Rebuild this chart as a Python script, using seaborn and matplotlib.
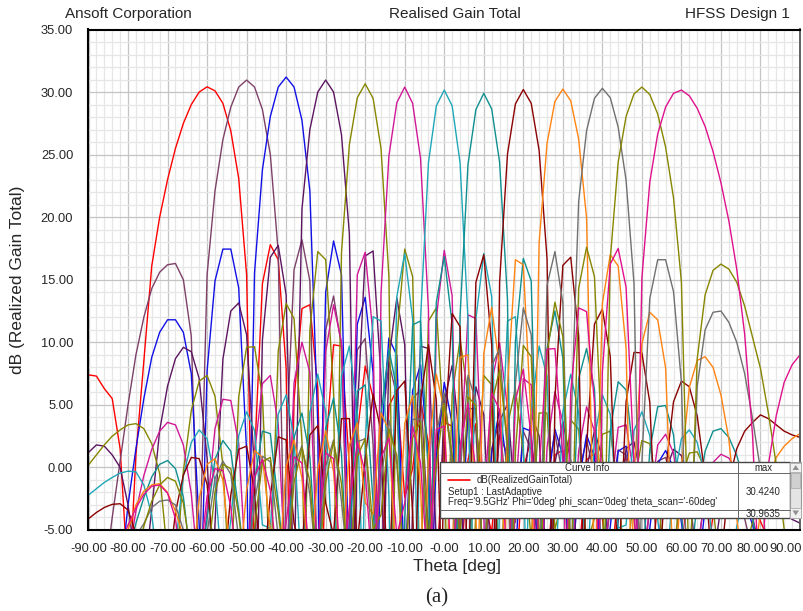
import matplotlib
matplotlib.use("Agg")
import matplotlib.pyplot as plt
import matplotlib.transforms as mtransforms
import seaborn as sns
import pandas as pd
from matplotlib.ticker import MultipleLocator, FormatStrFormatter
from matplotlib.patches import Rectangle, Polygon
from matplotlib.lines import Line2D

# ---------------- data ----------------
THETA = [-90, -88, -86, -84, -82, -80, -78, -76, -74, -72,
         -70, -68, -66, -64, -62, -60, -58, -56, -54, -52,
         -50, -48, -46, -44, -42, -40, -38, -36, -34, -32,
         -30, -28, -26, -24, -22, -20, -18, -16, -14, -12,
         -10, -8, -6, -4, -2, 0, 2, 4, 6, 8,
         10, 12, 14, 16, 18, 20, 22, 24, 26, 28,
         30, 32, 34, 36, 38, 40, 42, 44, 46, 48,
         50, 52, 54, 56, 58, 60, 62, 64, 66, 68,
         70, 72, 74, 76, 78, 80, 82, 84, 86, 88,
         90]

BEAMS = ["-60deg", "-50deg", "-40deg", "-30deg", "-20deg", "-10deg", "0deg",
         "10deg", "20deg", "30deg", "40deg", "50deg", "60deg"]
COLORS = ["#ff0000", "#7d4068", "#1010e6", "#5c1560", "#868600", "#d01896",
          "#1fa7b8", "#0f8f8f", "#8b0000", "#ff8412", "#707070", "#868600", "#e0108c"]

GAIN_M60 = [7.4, 7.3, 6.3, 5.5, 1.5, -9, 1.0, 8.5, 16.1, 20.0,
            23.0, 25.5, 27.5, 29.0, 30.0, 30.42, 30.1, 29.1, 26.9, 23.1,
            15.4, 0.7, 14.7, 17.8, 16.6, 7.9, 5.4, 12.7, 13.0, 6.3,
            1.2, 9.8, 9.7, 0.0, 2.7, 8.1, 5.6, -9, 4.9, 6.2,
            -2.4, -0.1, 5.4, 1.9, -9, 3.6, 3.3, -9, 0.6, 3.5,
            -2.6, -5.2, 2.6, 1.0, -9, -0.1, 2.3, -2.9, -9, 1.0,
            1.4, -5.8, -7.6, 0.6, 1.1, -4.1, -9, -1.6, 0.9, -0.5,
            -7.2, -9, -2.9, 0.0, 0.2, -2.0, -7.6, -9, -8.7, -3.8,
            -1.8, -1.1, -1.2, -1.9, -3.0, -4.3, -5.8, -7.3, -8.6, -9,
            -9]
GAIN_M50 = [-9, -9, -9, -4.0, 0.5, 5.0, 9.0, 12.0, 14.3, 15.6,
            16.2, 16.3, 15.0, 10.5, -9, 15.4, 22.1, 26.2, 28.8, 30.4,
            30.96, 30.4, 28.6, 25.0, 17.2, 1.5, 15.8, 18.2, 14.9, -9,
            11.0, 13.7, 9.7, -4.5, 9.4, 10.3, 1.8, 2.5, 8.4, 5.7,
            -9, 5.5, 6.2, -5.0, 1.6, 5.7, 0.8, -5.2, 4.2, 3.0,
            -9, 1.5, 3.7, -3.2, -4.4, 2.9, 1.4, -9, -0.7, 2.7,
            -0.7, -9, -0.5, 2.2, -0.6, -9, -3.0, 1.4, 1.0, -4.2,
            -9, -3.2, 0.5, 0.8, -1.4, -7.2, -9, -6.6, -2.3, -0.5,
            -0.2, -0.8, -2.1, -4.1, -6.7, -9, -9, -9, -9, -9,
            -9]
GAIN_M40 = [-9, -9, -9, -9, -9, -3.0, 1.5, 5.5, 8.8, 10.8,
            11.8, 11.8, 10.8, 7.5, -4.6, 7.7, 14.9, 17.45, 17.45, 14.35,
            1.25, 15.55, 23.8, 28.05, 30.4, 31.2, 30.4, 27.75, 22.1, 3.5,
            14.0, 18.1, 15.4, -9, 11.45, 13.6, 7.55, 1.95, 10.35, 8.95,
            -9, 6.15, 8.2, 0.35, 0.85, 6.8, 3.5, -9, 4.7, 4.7,
            -9, 1.15, 4.65, -0.25, -7.05, 3.15, 2.9, -8.35, -1.85, 3.05,
            0.95, -9, -1.35, 2.6, 0.85, -9, -4.75, 1.3, 1.7, -1.95,
            -9, -4.85, 0.3, 1.35, -0.05, -4.4, -9, -9, -3.2, -0.8,
            -0.05, -0.25, -1.15, -2.7, -4.6, -7.05, -9, -9, -9, -9,
            -9]
GAIN_M30 = [1.2, 1.8, 1.7, 1.0, 0.0, -3.0, -7.7, -9, -3.35, 2.95,
            6.5, 8.7, 9.6, 9.25, 7.1, 0.75, -4.5, 8.65, 12.5, 13.15,
            10.6, -0.25, 10.2, 16.8, 17.75, 13.8, -9, 20.65, 27.0, 30.0,
            30.96, 30.0, 26.6, 18.65, 4.35, 16.9, 17.3, 7.15, 8.7, 13.55,
            9.8, -2.95, 9.7, 9.5, -6.15, 5.25, 8.15, 1.7, -0.9, 6.45,
            4.2, -9, 3.7, 5.05, -3.05, -2.1, 4.25, 2.5, -9, 0.35,
            3.65, 0.55, -9, -0.15, 2.95, 0.75, -9, -4.3, 1.5, 2.05,
            -1.1, -9, -6.7, -0.3, 1.45, 0.95, -1.8, -8.2, -9, -7.5,
            -3.15, -1.15, -0.4, -0.35, -0.7, -1.35, -2.15, -2.9, -3.7, -4.15,
            -4.45]
GAIN_M20 = [0.2, 1.0, 1.8, 2.5, 3.0, 3.4, 3.5, 3.1, 1.9, -0.5,
            -7.05, -9, -0.3, 4.55, 6.9, 7.35, 5.7, 0.15, -9, 5.65,
            9.6, 9.65, 5.7, -9, 9.3, 13.1, 11.9, 2.05, 10.95, 17.25,
            16.6, 5.95, 17.15, 25.8, 29.55, 30.66, 29.5, 25.5, 15.25, 10.25,
            17.45, 15.25, -9, 11.7, 12.75, 2.45, 5.8, 10.25, 5.8, -3.15,
            7.35, 6.6, -9, 3.35, 6.3, 1.15, -5.75, 4.35, 4.35, -4.95,
            -2.4, 3.8, 3.05, -6.25, -4.05, 2.65, 2.9, -1.85, -9, -1.4,
            2.15, 1.9, -1.75, -9, -7.3, -0.9, 1.15, 1.25, -0.15, -3.15,
            -8.85, -9, -9, -6.9, -4.35, -3.0, -2.2, -1.8, -1.65, -1.65,
            -1.75]
GAIN_M10 = [-9, -9, -9, -9, -9, -7.2, -3.5, -0.65, 1.45, 2.9,
            3.6, 3.4, 1.8, -2.1, -9, -3.4, 3.1, 5.45, 5.35, 1.9,
            -9, 1.1, 6.7, 7.35, 3.45, -9, 6.75, 10.0, 7.6, -9,
            9.25, 13.0, 10.0, -9, 15.4, 17.2, 10.55, 13.9, 24.9, 29.15,
            30.4, 29.1, 24.7, 12.6, 11.95, 17.35, 13.7, -0.3, 12.2, 11.9,
            -3.5, 6.75, 9.95, 4.7, -2.3, 7.1, 6.6, -5.8, 1.6, 6.05,
            3.65, -9, 1.3, 4.85, 2.9, -9, -2.35, 3.2, 3.4, -0.65,
            -9, -2.9, 1.8, 2.65, 1.15, -3.6, -9, -7.3, -1.85, 0.4,
            1.05, 0.75, -0.25, -1.9, -3.95, -6.65, -9, -9, -9, -9,
            -9]
GAIN_0 = [-2.2, -1.7, -1.2, -0.8, -0.45, -0.3, -0.35, -1.4, -3.8, -9,
          -9, -6.25, -0.7, 2.0, 3.0, 2.3, -1.15, -9, -4.2, 2.55,
          4.45, 2.95, -4.6, -4.85, 4.25, 5.8, 2.35, -9, 4.4, 7.45,
          4.45, -9, 7.3, 9.7, 4.5, 1.95, 12.05, 11.7, -2.35, 13.65,
          17.1, 11.85, 11.85, 24.35, 28.9, 30.16, 28.9, 24.35, 11.85, 11.85,
          17.1, 13.65, -2.35, 11.7, 12.05, 1.95, 4.5, 9.7, 7.3, -9,
          4.45, 7.45, 4.4, -9, 2.35, 5.8, 4.25, -4.85, -4.6, 2.95,
          4.45, 2.55, -4.2, -9, -1.15, 2.3, 3.0, 2.0, -0.7, -6.25,
          -9, -9, -4.7, -2.1, -0.75, -0.15, 0.1, 0.15, 0.1, -0.05,
          -0.15]
GAIN_P10 = [-9, -9, -9, -9, -9, -7.15, -4.45, -2.4, -0.75, 0.25,
            0.55, -0.1, -2.35, -7.8, -9, -4.1, 0.65, 2.15, 1.3, -3.4,
            -9, -1.15, 2.9, 2.7, -2.85, -9, 2.4, 4.35, 0.8, -9,
            3.15, 5.55, 1.1, -6.3, 6.1, 6.6, -2.8, 4.2, 9.45, 6.25,
            -4.0, 11.4, 11.7, -0.8, 13.2, 16.85, 11.45, 12.1, 24.2, 28.6,
            29.9, 28.65, 24.4, 13.4, 10.05, 16.7, 14.9, -9, 9.5, 12.5,
            8.75, -9, 7.1, 9.5, 6.25, -9, 2.95, 6.85, 6.2, 0.6,
            -9, 1.4, 4.85, 4.95, 2.6, -3.9, -9, -2.6, 1.3, 2.9,
            3.1, 2.4, 0.95, -1.15, -4.0, -7.7, -9, -9, -9, -9,
            -9]
GAIN_P20 = [-4.1, -3.6, -3.2, -2.95, -2.9, -3.4, -5.3, -8, -9, -9,
            -9, -3.6, -0.6, 0.8, 0.7, -1.35, -7.75, -9, -2.2, 1.45,
            1.7, -1.85, -9, -2.3, 2.45, 2.2, -4.5, -6.7, 2.6, 3.35,
            -2.85, -5.4, 3.9, 3.9, -6.2, 0.7, 5.85, 2.9, -9, 6.15,
            6.9, -3.6, 5.35, 9.8, 5.35, 2.0, 12.3, 11.25, -9, 14.8,
            17.0, 9.8, 14.8, 25.05, 29.05, 30.2, 29.1, 25.35, 16.7, 5.5,
            16.15, 16.8, 10.5, 1.6, 11.45, 12.65, 8.85, -9, 5.25, 9.2,
            9.15, 5.2, -9, -0.3, 5.25, 6.9, 6.45, 4.1, -0.75, -9,
            -7.5, -1.15, 1.5, 2.9, 3.6, 4.2, 3.9, 3.4, 2.9, 2.6,
            2.4]
GAIN_P30 = [-9, -9, -9, -9, -7.5, -5.0, -3.0, -1.9, -1.4, -1.3,
            -2.0, -3.5, -5.5, -9, -2.5, 0.25, 0.7, -1.0, -7.4, -9,
            -1.8, 1.35, 0.8, -5.0, -9, 0.05, 2.2, -0.85, -9, -0.15,
            2.95, -0.35, -9, 1.8, 3.55, -2.8, -3.75, 4.35, 3.0, -9,
            3.5, 5.75, -1.6, 1.0, 7.45, 4.55, -6.85, 8.8, 9.0, -3.65,
            9.1, 12.8, 8.0, 6.45, 16.6, 16.2, 3.65, 17.95, 25.9, 29.25,
            30.24, 29.3, 26.25, 19.95, -9, 13.1, 17.0, 16.1, 9.5, -0.95,
            9.9, 12.4, 11.8, 7.95, -9, 0.05, 6.4, 8.55, 8.85, 8.0,
            5.8, 2.25, -4.05, -9, -8.45, -3.55, -0.9, 0.8, 1.7, 2.3,
            2.7]
GAIN_P40 = [-9, -9, -9, -9, -9, -7.9, -5.45, -4.5, -3.2, -2.7,
            -2.6, -3.0, -5.0, -9, -9, -5.25, -0.9, 0.5, -0.55, -5.7,
            -9, -2.8, 0.9, 0.45, -5.6, -9, 0.0, 1.75, -2.2, -9,
            0.1, 2.2, -2.7, -9, 2.05, 2.3, -7.9, -1.1, 3.8, 0.3,
            -9, 3.85, 3.85, -9, 2.65, 5.95, 0.0, -0.5, 7.35, 5.3,
            -9, 8.1, 9.5, 1.1, 6.7, 12.75, 10.6, -9, 14.55, 17.25,
            13.15, 2.7, 21.25, 26.9, 29.5, 30.3, 29.55, 27.2, 22.95, 14.7,
            0.4, 13.5, 16.6, 16.6, 14.05, 6.8, -9, 6.5, 11.0, 12.4,
            12.5, 11.6, 10.0, 7.5, 3.9, -0.2, -9, -9, -9, -9,
            -9]
GAIN_P50 = [-9, -9, -9, -9, -9, -9, -7.25, -4.7, -2.7, -1.4,
            -0.8, -1.1, -2.85, -7.15, -9, -7.8, -1.95, 0.25, -0.1, -3.8,
            -9, -4.75, 0.45, 0.8, -3.55, -9, -1.2, 1.6, -1.1, -9,
            -1.25, 2.1, -1.3, -9, 0.85, 2.3, -4.95, -3.8, 3.1, 0.95,
            -9, 2.4, 3.65, -5.8, 0.2, 5.1, 1.0, -5.6, 5.65, 4.95,
            -9, 5.1, 7.8, 1.9, 1.2, 9.75, 8.85, -5.1, 9.1, 13.2,
            10.45, -9, 14.3, 17.6, 15.25, 0.9, 16.65, 24.4, 28.05, 29.85,
            30.4, 29.8, 28.25, 25.6, 21.55, 14.8, -9, 8.7, 13.8, 15.75,
            16.25, 15.85, 14.8, 12.9, 10.4, 7.9, 4.35, 0.2, -4.95, -9,
            -9]
GAIN_P60 = [-9, -9, -8.9, -7.55, -6.1, -4.6, -3.25, -2.15, -1.5, -1.4,
            -2.05, -4.1, -9, -9, -7.85, -2.3, -0.1, -0.25, -3.15, -9,
            -7.45, -0.75, 0.65, -1.85, -9, -4.4, 0.85, 0.35, -7.85, -6.05,
            1.15, 0.7, -9, -3.15, 2.05, -0.4, -9, 0.75, 2.35, -5.45,
            -2.85, 3.3, 0.35, -9, 3.05, 3.3, -9, 1.65, 5.15, -0.35,
            -2.65, 5.95, 4.6, -9, 5.35, 7.85, 2.4, -0.25, 9.45, 9.5,
            0.95, 6.05, 12.75, 12.45, 5.15, 7.65, 16.25, 17.5, 14.4, 0.45,
            15.15, 22.8, 26.65, 28.8, 29.9, 30.16, 29.7, 28.7, 27.25, 25.25,
            22.75, 19.7, 15.85, 10.65, 2.55, -9, 0.2, 4.15, 6.8, 8.2,
            9.0]

# angles of the pattern nulls (curves dive below the -5 dB floor there)
NULLS_M60 = [-79.6, -48.45, -39.10, -30.87, -23.29, -16.13]
NULLS_M50 = [-62.09, -40.42, -32.05, -24.40, -17.18, -10.24]
NULLS_M40 = [-61.40, -49.51, -31.68, -24.05, -16.85, -9.92, -3.13]
NULLS_M30 = [-76.08, -58.54, -47.33, -38.14, -22.48, -15.35, -8.46, -1.69, 5.06]
NULLS_M20 = [-54.35, -44.02, -35.26, -27.36, -12.97, -6.13, 0.63, 7.39, 14.25]
NULLS_M10 = [-40.11, -31.77, -24.14, -16.94, -3.21, 3.53, 10.33, 17.27, 24.49]
NULLS_0 = [-36.03, -28.07, -20.67, -13.61, -6.76, 6.76, 13.61, 20.67, 28.07, 36.03]
NULLS_P10 = [-24.49, -17.27, -10.33, -3.53, 3.21, 16.94, 24.14, 31.77, 40.11]
NULLS_P20 = [-14.25, -7.39, -0.63, 6.13, 12.97, 27.36, 35.26, 44.02, 54.35]
NULLS_P30 = [-5.06, 1.69, 8.46, 15.35, 22.48, 38.14, 47.33, 58.54, 76.08]
NULLS_P40 = [3.13, 9.92, 16.85, 24.05, 31.68, 49.51, 61.40]
NULLS_P50 = [10.24, 17.18, 24.40, 32.05, 40.42, 62.09]
NULLS_P60 = [16.13, 23.29, 30.87, 39.10, 48.45, 79.6]
NULL_DEPTH_DB = -9.0

GAINS = [GAIN_M60, GAIN_M50, GAIN_M40, GAIN_M30, GAIN_M20, GAIN_M10, GAIN_0,
         GAIN_P10, GAIN_P20, GAIN_P30, GAIN_P40, GAIN_P50, GAIN_P60]
NULLS = [NULLS_M60, NULLS_M50, NULLS_M40, NULLS_M30, NULLS_M20, NULLS_M10, NULLS_0,
         NULLS_P10, NULLS_P20, NULLS_P30, NULLS_P40, NULLS_P50, NULLS_P60]

X_TICKS = [-90, -80, -70, -60, -50, -40, -30, -20, -10, 0, 10, 20, 30, 40, 50, 60, 70, 80, 90]
X_TICK_LABELS = ["-90.00", "-80.00", "-70.00", "-60.00", "-50.00", "-40.00", "-30.00",
                 "-20.00", "-10.00", "-0.00", "10.00", "20.00", "30.00", "40.00",
                 "50.00", "60.00", "70.00", "80.00", "90.00"]
LEGEND_MAX = ["30.4240", "30.9635"]

# ---------------- build the long table ----------------
rows = []
for beam, gains, nulls in zip(BEAMS, GAINS, NULLS):
    for th, g in zip(THETA, gains):
        rows.append((beam, th, g))
    for th in nulls:
        rows.append((beam, th, NULL_DEPTH_DB))
df = pd.DataFrame(rows, columns=["beam", "theta", "gain"])

# ---------------- figure ----------------
sns.set_style("white")
plt.rcParams["font.family"] = ["Liberation Sans", "DejaVu Sans"]

W, H = 804, 611
fig = plt.figure(figsize=(W / 100, H / 100), dpi=100)
ax = fig.add_axes([88.5 / W, 1 - 530 / H, (800 - 88.5) / W, (530 - 29.5) / H])

sns.lineplot(data=df, x="theta", y="gain", hue="beam", hue_order=BEAMS,
             palette=dict(zip(BEAMS, COLORS)), estimator=None, sort=True,
             legend=False, linewidth=1.0, ax=ax)

ax.set_xlim(-90, 90)
ax.set_ylim(-5, 35)
ax.set_xticks(X_TICKS)
ax.set_xticklabels(X_TICK_LABELS)
ax.xaxis.set_minor_locator(MultipleLocator(2))
ax.yaxis.set_major_locator(MultipleLocator(5))
ax.yaxis.set_minor_locator(MultipleLocator(1))
ax.yaxis.set_major_formatter(FormatStrFormatter("%.2f"))

ax.grid(which="major", color="#c4c4c4", linewidth=0.9)
ax.grid(which="minor", color="#e6e6e6", linewidth=0.9)
ax.set_axisbelow(True)

ax.tick_params(axis="both", which="both", direction="out", color="black",
               labelsize=9.3, width=1.0)
ax.tick_params(axis="y", which="major", length=8, pad=3)
ax.tick_params(axis="y", which="minor", length=4.5)
ax.tick_params(axis="x", which="major", length=5, pad=4)
ax.tick_params(axis="x", which="minor", length=4.5)

# the reference squeezes the last x tick labels leftwards so they stay inside
label_shift_px = {"70.00": -4, "80.00": -8, "90.00": -14}
for lab in ax.get_xticklabels():
    dx = label_shift_px.get(lab.get_text(), 0)
    if dx:
        lab.set_transform(lab.get_transform() +
                          mtransforms.ScaledTranslation(dx / 100, 0, fig.dpi_scale_trans))

for side in ["left", "bottom", "top"]:
    ax.spines[side].set_color("black")
    ax.spines[side].set_linewidth(1.5)
ax.spines["right"].set_color("#555555")
ax.spines["right"].set_linewidth(1.3)

ax.set_xlabel("")
ax.set_ylabel("")
fig.text(457 / W, 1 - 567 / H, "Theta [deg]", ha="center", va="center", fontsize=12.5)
fig.text(18 / W, 1 - 280 / H, "dB (Realized Gain Total)", ha="center", va="center",
         rotation=90, fontsize=12.5)

fig.text(65 / W, 1 - 14 / H, "Ansoft Corporation", ha="left", va="center", fontsize=11)
fig.text(455 / W, 1 - 14 / H, "Realised Gain Total", ha="center", va="center", fontsize=11)
fig.text(790 / W, 1 - 14 / H, "HFSS Design 1", ha="right", va="center", fontsize=11)

fig.text(437 / W, 1 - 598 / H, "(a)", ha="center", va="center", fontsize=15,
         family=["Liberation Serif", "DejaVu Serif"])

# ---------------- Curve Info box ----------------
def px(x, y):
    return (x / W, 1 - y / H)

def frect(x0, y0, x1, y1, **kw):
    (fx0, fy1) = px(x0, y0)
    (fx1, fy0) = px(x1, y1)
    r = Rectangle((fx0, fy0), fx1 - fx0, fy1 - fy0, transform=fig.transFigure, **kw)
    fig.add_artist(r)
    return r

frect(440, 462, 790, 518, facecolor="white", edgecolor="#444444", linewidth=1.0, zorder=10)
frect(790, 462, 801.5, 518, facecolor="#e4e4e4", edgecolor="#999999", linewidth=0.8, zorder=10)
frect(790.5, 462.5, 801, 472, facecolor="#f0f0f0", edgecolor="#aaaaaa", linewidth=0.6, zorder=11)
frect(790.5, 508, 801, 517.5, facecolor="#f0f0f0", edgecolor="#aaaaaa", linewidth=0.6, zorder=11)
frect(791.5, 473, 800, 488, facecolor="#d0d0d0", edgecolor="#b0b0b0", linewidth=0.6, zorder=11)
fig.add_artist(Polygon([px(792.5, 470), px(799, 470), px(795.75, 465)], closed=True,
                       transform=fig.transFigure, facecolor="#909090", edgecolor="none", zorder=12))
fig.add_artist(Polygon([px(792.5, 510.5), px(799, 510.5), px(795.75, 515.5)], closed=True,
                       transform=fig.transFigure, facecolor="#909090", edgecolor="none", zorder=12))

for (x0, y0, x1, y1) in [(440, 473.3, 790, 473.3), (440, 510, 790, 510),
                         (737.7, 462, 737.7, 518)]:
    a, b = px(x0, y0)
    c, d = px(x1, y1)
    fig.add_artist(Line2D([a, c], [b, d], transform=fig.transFigure, color="#666666",
                          linewidth=0.7, zorder=12))

a, b = px(448, 480)
c, d = px(470, 480)
fig.add_artist(Line2D([a, c], [b, d], transform=fig.transFigure, color=COLORS[0],
                      linewidth=1.2, zorder=12))

small = dict(fontsize=6.9, zorder=13, va="center")
fig.text(*px(586.7, 467.7), "Curve Info", ha="center", **small)
fig.text(*px(763.3, 467.7), "max", ha="center", **small)
fig.text(*px(476.7, 480), "dB(RealizedGainTotal)", ha="left", **small)
fig.text(*px(448.3, 492.3), "Setup1 : LastAdaptive", ha="left", **small)
fig.text(*px(448.3, 502.3), "Freq='9.5GHz' Phi='0deg' phi_scan='0deg' theta_scan='-60deg'",
         ha="left", **small)
fig.text(*px(763.3, 492.3), LEGEND_MAX[0], ha="center", **small)
fig.text(*px(763.3, 514.3), LEGEND_MAX[1], ha="center", **small)

fig.savefig("out.png", dpi=100)
